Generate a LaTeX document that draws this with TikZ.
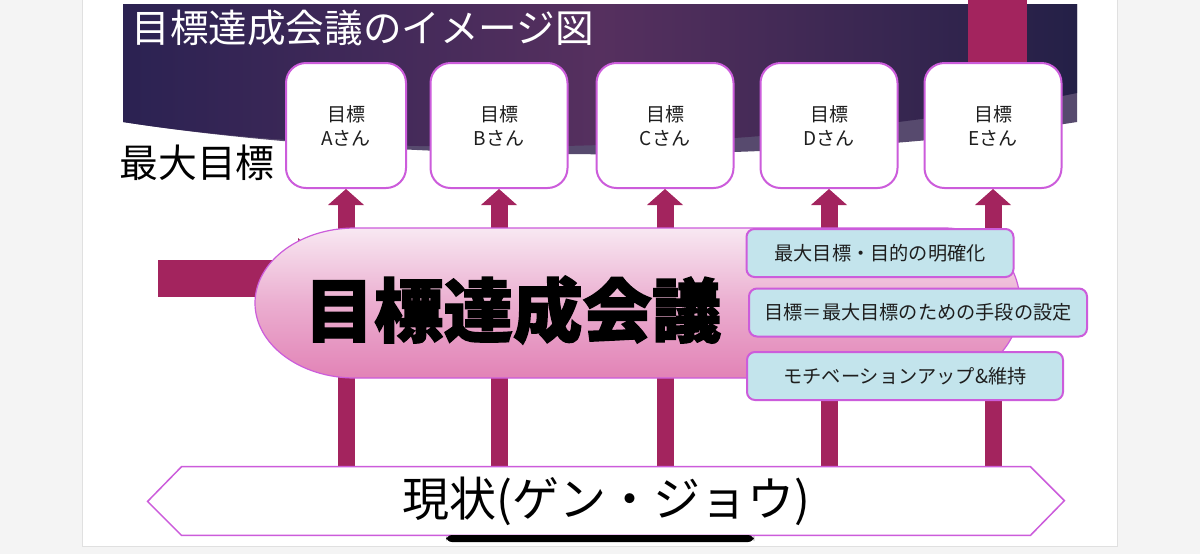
\documentclass[tikz,border=0pt]{standalone}
\usepackage{fontspec}
\setmainfont{Noto Sans CJK JP}
\newfontfamily\heavyjp{Noto Sans CJK JP}[BoldFeatures={FakeBold=2}]
\usepackage{xcolor}
\definecolor{cPage}{HTML}{F4F4F4}
\definecolor{cBandL}{HTML}{2B2252}
\definecolor{cBandM}{HTML}{56305F}
\definecolor{cBandR}{HTML}{242047}
\definecolor{cBandLow}{HTML}{574A6E}
\definecolor{cArrow}{HTML}{A3245E}
\definecolor{cEdge}{HTML}{CC5CDB}
\definecolor{cDrop}{HTML}{C3E4EC}
\definecolor{cPinkT}{HTML}{F8E8F2}
\definecolor{cPinkM}{HTML}{EBAED0}
\definecolor{cPinkB}{HTML}{E283B6}
\definecolor{cInk}{HTML}{1E1E1E}
\usepackage{tikz}
\usetikzlibrary{positioning,arrows.meta,backgrounds}
\tikzset{
  node-goal/.style={draw=cEdge,line width=1pt,fill=white,rounded corners=10pt,
    minimum height=62.5pt,minimum width=68.5pt,align=center,text=cInk,
    font=\fontsize{9.5}{12}\selectfont},
  node-drop/.style={draw=cEdge,line width=1pt,fill=cDrop,rounded corners=4pt,
    minimum height=24pt,text=cInk,font=\fontsize{9.6}{11}\selectfont},
  line-hex/.style={draw=cEdge,line width=0.75pt},
  arrow-up/.style={-{Triangle[length=8pt,width=18pt,line width=0pt]},
    line width=8.5pt,draw=cArrow},
  arrow-in/.style={-{Triangle[length=20pt,width=40pt,line width=0pt]},
    line width=18.5pt,draw=cArrow},
}

\begin{document}
\begin{tikzpicture}[x=0.5pt,y=-0.5pt]
  \useasboundingbox (0,0) rectangle (1200,554);
  \begin{scope}[on background layer]
    \fill[cPage] (0,0) rectangle (1200,554);
    \fill[white,draw=black!12] (82,-2) rectangle (1117,546);
  \end{scope}

  % title band
  \fill[cBandLow] (123,4) -- (1077,4) -- (1077,122)
    .. controls (800,165) and (400,165) .. (123,122) -- cycle;
  \shade[left color=cBandL,right color=cBandR,middle color=cBandM]
    (123,4) -- (1077,4) -- (1077,93)
    .. controls (800,150) and (400,165) .. (123,122) -- cycle;
  \fill[cArrow] (968,0) rectangle (1027,62);
  \node[anchor=west,inner sep=0pt,text=white,font=\fontsize{19.3}{20}\selectfont]
    (ttl) at (131,28) {目標達成会議のイメージ図};
  \node[anchor=west,inner sep=0pt,text=black,font=\fontsize{19.4}{20}\selectfont]
    (top) at (119,163) {最大目標};

  \node[node-goal,minimum width=60pt] (ga) at (346,125.5) {目標\\Aさん};
  \node[node-goal] (gb) at (499,125.5) {目標\\Bさん};
  \node[node-goal] (gc) at (665,125.5) {目標\\Cさん};
  \node[node-goal] (gd) at (829,125.5) {目標\\Dさん};
  \node[node-goal] (ge) at (993,125.5) {目標\\Eさん};

  % current state
  \node[minimum width=424pt,minimum height=34pt,inner sep=0pt,
    font=\fontsize{23.5}{24}\selectfont] (cur) at (606,501) {現状(ゲン・ジョウ)};
  \draw[line-hex] (cur.north west) -- (cur.north east) -- ++(34,34)
    -- (cur.south east) -- (cur.south west) -- ++(-34,-34) -- cycle;

  % meeting
  \shade[draw=cEdge,line width=0.6pt,top color=cPinkT,bottom color=cPinkB,
    middle color=cPinkM]
    (355,228) -- (945,228) arc[start angle=-90,end angle=90,radius=75]
    -- (355,378) arc[start angle=90,end angle=270,x radius=100,y radius=75]
    -- cycle;
  \node[inner sep=0pt,font=\heavyjp\bfseries\fontsize{34.75}{36}\selectfont]
    (meet) at (513,310) {目標達成会議};
  \coordinate (lin) at (158,278);

  \node[node-drop,minimum width=133.5pt] (b1) at (880,253) {最大目標・目的の明確化};
  \node[node-drop,minimum width=169pt] (b2) at (918,312.5) {目標＝最大目標のための手段の設定};
  \node[node-drop,minimum width=158pt] (b3) at (905,376) {モチベーションアップ\&維持};

  \begin{scope}[on background layer]
    \draw[arrow-in] (lin) -- ([xshift=17pt]meet.west |- lin);
    \foreach \g in {ga,gb,gc,gd,ge}
      \draw[arrow-up] (\g.south |- cur.north) -- (\g.south);
  \end{scope}

  \fill[black,rounded corners=3pt] (446,535) rectangle (754,542);
\end{tikzpicture}
\end{document}
